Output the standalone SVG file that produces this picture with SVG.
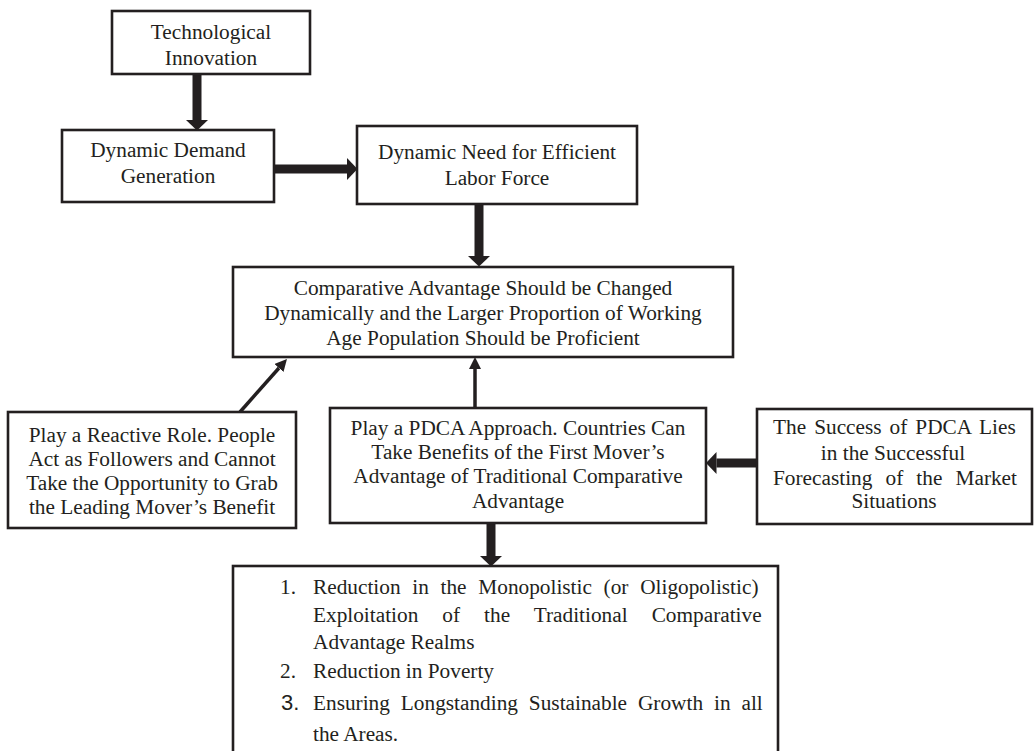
<svg xmlns="http://www.w3.org/2000/svg" width="1036" height="751" viewBox="0 0 1036 751">
<style>
  .box { fill: #ffffff; stroke: #231f20; stroke-width: 2.6; }
  .t { font-family: "Liberation Serif", "Times New Roman", serif; font-size: 21.3px; fill: #231f20; }
  .c { text-anchor: middle; }
  .thick { stroke: #231f20; stroke-width: 9; fill: none; }
  .thin { stroke: #231f20; stroke-width: 3.5; fill: none; }
  .num3 { font-family: "Liberation Sans", Arial, sans-serif; font-size: 22px; fill: #231f20; }
</style>
<defs>
  <marker id="bigHead" markerUnits="userSpaceOnUse" markerWidth="12" markerHeight="24" refX="0" refY="11" orient="auto">
    <path d="M0,0 L10.5,11 L0,22 Z" fill="#231f20"/>
  </marker>
  <marker id="smallHead" markerUnits="userSpaceOnUse" markerWidth="14" markerHeight="14" refX="0" refY="6" orient="auto">
    <path d="M0,0 L12,6 L0,12 Z" fill="#231f20"/>
  </marker>
</defs>

<g id="connectors">
  <line class="thick" x1="197" y1="74" x2="197" y2="120" marker-end="url(#bigHead)"/>
  <line class="thick" x1="274" y1="169" x2="347" y2="169" marker-end="url(#bigHead)"/>
  <line class="thick" x1="479" y1="204" x2="479" y2="256" marker-end="url(#bigHead)"/>
  <line class="thick" x1="757" y1="463" x2="716.5" y2="463" marker-end="url(#bigHead)"/>
  <line class="thick" x1="491" y1="523" x2="491" y2="556" marker-end="url(#bigHead)"/>
  <line class="thin" x1="475" y1="408" x2="475" y2="369" marker-end="url(#smallHead)"/>
  <line class="thin" x1="240" y1="412" x2="279" y2="368" marker-end="url(#smallHead)"/>
</g>

<g id="node-tech">
  <rect class="box" x="112" y="11" width="198" height="63"/>
  <text class="t c" x="211" y="39">Technological</text>
  <text class="t c" x="211" y="65">Innovation</text>
</g>

<g id="node-demand">
  <rect class="box" x="62" y="130" width="212" height="72"/>
  <text class="t c" x="168" y="157">Dynamic Demand</text>
  <text class="t c" x="168" y="183">Generation</text>
</g>

<g id="node-labor">
  <rect class="box" x="357" y="126" width="280" height="78"/>
  <text class="t c" x="497" y="159">Dynamic Need for Efficient</text>
  <text class="t c" x="497" y="185">Labor Force</text>
</g>

<g id="node-comparative">
  <rect class="box" x="233" y="267" width="500" height="90"/>
  <text class="t c" x="483" y="295">Comparative Advantage Should be Changed</text>
  <text class="t c" x="483" y="320">Dynamically and the Larger Proportion of Working</text>
  <text class="t c" x="483" y="345">Age Population Should be Proficient</text>
</g>

<g id="node-reactive">
  <rect class="box" x="8" y="412" width="288" height="116"/>
  <text class="t c" x="152" y="442">Play a Reactive Role. People</text>
  <text class="t c" x="152" y="466">Act as Followers and Cannot</text>
  <text class="t c" x="152" y="490">Take the Opportunity to Grab</text>
  <text class="t c" x="152" y="514">the Leading Mover’s Benefit</text>
</g>

<g id="node-pdca">
  <rect class="box" x="330" y="408" width="376" height="115"/>
  <text class="t c" x="518" y="435">Play a PDCA Approach. Countries Can</text>
  <text class="t c" x="518" y="459">Take Benefits of the First Mover’s</text>
  <text class="t c" x="518" y="483">Advantage of Traditional Comparative</text>
  <text class="t c" x="518" y="508">Advantage</text>
</g>

<g id="node-success">
  <rect class="box" x="757" y="409" width="275" height="115"/>
  <text class="t" x="773" y="434" word-spacing="2.7">The Success of PDCA Lies</text>
  <text class="t c" x="893" y="460">in the Successful</text>
  <text class="t" x="773" y="485" word-spacing="7.8">Forecasting of the Market</text>
  <text class="t c" x="894" y="508">Situations</text>
</g>

<g id="node-outcomes">
  <rect class="box" x="233" y="566" width="545" height="200"/>
  <text class="t" x="280" y="594">1.</text>
  <text class="t" x="313" y="594" word-spacing="6.4">Reduction in the Monopolistic (or Oligopolistic)</text>
  <text class="t" x="313" y="622" word-spacing="18.7">Exploitation of the Traditional Comparative</text>
  <text class="t" x="313" y="649">Advantage Realms</text>
  <text class="t" x="280" y="678">2.</text>
  <text class="t" x="313" y="678">Reduction in Poverty</text>
  <text class="num3" x="281" y="710">3.</text>
  <text class="t" x="313" y="710" word-spacing="5.6">Ensuring Longstanding Sustainable Growth in all</text>
  <text class="t" x="313" y="741">the Areas.</text>
</g>
</svg>
